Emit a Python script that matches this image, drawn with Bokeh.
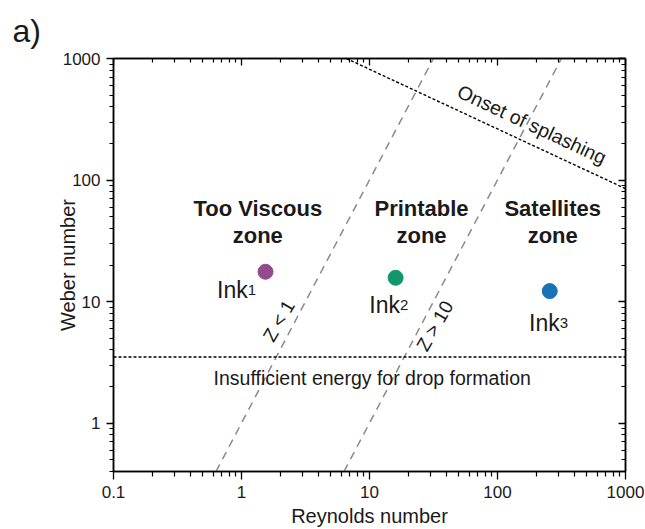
import math
from bokeh.plotting import figure
from bokeh.models import LogAxis, FixedTicker, ColumnDataSource, CustomJSTickFormatter
from bokeh.core.properties import value
from bokeh.embed import file_html
from bokeh.resources import INLINE

# ---------------- data ----------------
ink_names = ["Ink", "Ink", "Ink"]
ink_subs = ["1", "2", "3"]
ink_re = [1.54, 16.0, 256.0]
ink_we = [17.6, 15.7, 12.2]
ink_colors = ["#934b8c", "#11976b", "#1a72b6"]

z1_re = [0.632, 31.6]      # Z = 1 boundary
z1_we = [0.4, 1000.0]
z10_re = [6.32, 316.0]     # Z = 10 boundary
z10_we = [0.4, 1000.0]
splash_re = [6.6, 1000.0]  # onset of splashing
splash_we = [1000.0, 85.0]
drop_re = [0.1, 1000.0]    # insufficient energy threshold
drop_we = [3.5, 3.5]

zone_line1 = ["Too Viscous", "Printable", "Satellites"]
zone_line2 = ["zone", "zone", "zone"]
zone_re = [1.34, 25.5, 270.0]
zone_we1 = [58.7, 58.7, 58.7]
zone_we2 = [35.3, 35.3, 35.3]

x_ticks = [0.1, 1, 10, 100, 1000]
x_tick_labels = ["0.1", "1", "10", "100", "1000"]
y_ticks = [1, 10, 100, 1000]
y_tick_labels = ["1", "10", "100", "1000"]
minor_mult = [2, 3, 4, 5, 6, 7, 8, 9]
minor_decades = [0.1, 1, 10, 100]

x_minor = [m * d for d in minor_decades for m in minor_mult]
y_minor = [m * d for d in minor_decades for m in minor_mult]

FONT = "Liberation Sans"
TXT = "#1a1a1a"

p = figure(width=645, height=529, output_backend="svg", toolbar_location=None,
           x_axis_type="log", y_axis_type="log",
           x_range=(0.1, 1000), y_range=(0.4, 1000),
           min_border_left=113, min_border_right=20,
           min_border_top=58, min_border_bottom=57,
           title="a)")
p.grid.visible = False
p.outline_line_color = "black"
p.outline_line_width = 1.5
p.background_fill_color = "white"
p.border_fill_color = "white"

p.title.align = "left"
p.title.offset = -101
p.title.text_font = FONT
p.title.text_font_size = "32px"
p.title.text_font_style = "normal"
p.title.text_color = TXT
p.title.text_line_height = 0.6
p.title.standoff = 19

LABEL_JS = """
for (let i = 0; i < ticks_v.length; i++) {
    if (Math.abs(Math.log10(tick) - Math.log10(ticks_v[i])) < 1e-6) return labels[i];
}
return "";
"""


def style_axis(ax, ticks, minor, labels=None, inner=False):
    ax.ticker = FixedTicker(ticks=ticks, minor_ticks=minor)
    ax.axis_line_color = "black"
    ax.axis_line_width = 1.5
    ax.major_tick_line_color = "black"
    ax.minor_tick_line_color = "black"
    ax.major_tick_line_width = 1.3
    ax.minor_tick_line_width = 1.2
    if inner:
        ax.major_tick_in = 7
        ax.major_tick_out = 0
        ax.minor_tick_in = 4
        ax.minor_tick_out = 0
        ax.major_label_text_font_size = "1px"
        ax.major_label_text_alpha = 0
        ax.major_label_standoff = 0
    else:
        ax.major_tick_in = 0
        ax.major_tick_out = 8
        ax.minor_tick_in = 0
        ax.minor_tick_out = 5
        ax.formatter = CustomJSTickFormatter(args=dict(ticks_v=ticks, labels=labels),
                                             code=LABEL_JS)
        ax.major_label_text_font = FONT
        ax.major_label_text_font_size = "17px"
        ax.major_label_text_color = TXT
        ax.axis_label_text_font = FONT
        ax.axis_label_text_font_size = "20px"
        ax.axis_label_text_font_style = "normal"
        ax.axis_label_text_color = TXT


style_axis(p.xaxis[0], x_ticks, x_minor, x_tick_labels)
p.xaxis.axis_label = "Reynolds number"
p.xaxis.major_label_standoff = 6
p.xaxis.axis_label_standoff = 4

style_axis(p.yaxis[0], y_ticks, y_minor, y_tick_labels)
p.yaxis.axis_label = "Weber number"
p.yaxis.major_tick_out = 7
p.yaxis.minor_tick_out = 4
p.yaxis.major_label_standoff = 6
p.yaxis.axis_label_standoff = -19

top = LogAxis()
style_axis(top, x_ticks, x_minor, inner=True)
p.add_layout(top, "above")
right = LogAxis()
style_axis(right, y_ticks, y_minor, inner=True)
p.add_layout(right, "right")

# boundary lines
p.line(z1_re, z1_we, line_color="#8a8a8a", line_width=1.5, line_dash="8 6")
p.line(z10_re, z10_we, line_color="#8a8a8a", line_width=1.5, line_dash="8 6")
p.line(splash_re, splash_we, line_color="black", line_width=1.4, line_dash="3 2")
p.line(drop_re, drop_we, line_color="black", line_width=1.4, line_dash="3 2")

# ink points
src = ColumnDataSource(dict(x=ink_re, y=ink_we, c=ink_colors, name=ink_names,
                            sub=ink_subs,
                            dx=[-17.7, 4.3, 10.0], dy=[18.3, 27.3, 32.3]))
p.scatter("x", "y", source=src, size=15, fill_color="c", line_color="c")
p.text("x", "y", text="name", source=src, x_offset="dx", y_offset="dy",
       text_align="right", text_baseline="alphabetic",
       text_font=value(FONT), text_font_size="23px", text_color=TXT)
p.text("x", "y", text="sub", source=src, x_offset="dx", y_offset="dy",
       text_align="left", text_baseline="alphabetic",
       text_font=value(FONT), text_font_size="15px", text_color=TXT)

# zone labels
p.text(zone_re, zone_we1, text=zone_line1, text_align="center", text_baseline="alphabetic",
       text_font=value(FONT), text_font_size="22px", text_font_style="bold", text_color=TXT)
p.text(zone_re, zone_we2, text=zone_line2, text_align="center", text_baseline="alphabetic",
       text_font=value(FONT), text_font_size="22px", text_font_style="bold", text_color=TXT)

# annotations along the lines
p.text([10.5], [2.36], text=["Insufficient energy for drop formation"],
       text_align="center", text_baseline="alphabetic",
       text_font=value(FONT), text_font_size="19.5px", text_color=TXT)
p.text([186.0], [287.0], text=["Onset of splashing"], angle=math.radians(-25),
       text_align="center", text_baseline="middle",
       text_font=value(FONT), text_font_size="19.5px", text_color=TXT)
p.text([1.96], [6.93], text=["Z < 1"], angle=math.radians(60),
       text_align="center", text_baseline="middle",
       text_font=value(FONT), text_font_size="19px", text_color=TXT)
p.text([32.4], [6.3], text=["Z > 10"], angle=math.radians(60),
       text_align="center", text_baseline="middle",
       text_font=value(FONT), text_font_size="19px", text_color=TXT)

open("out.html", "w").write(file_html(p, INLINE))
